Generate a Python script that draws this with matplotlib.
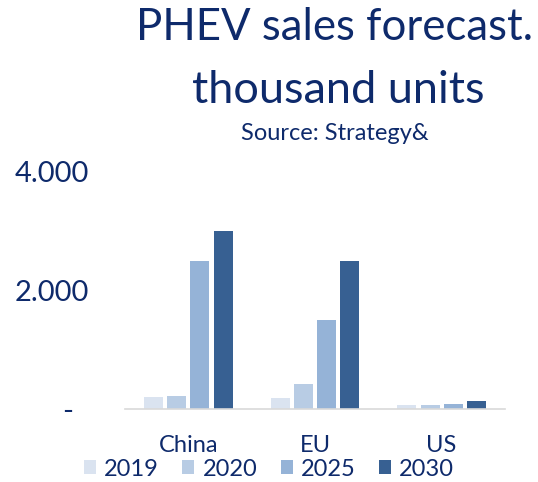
import matplotlib
matplotlib.use("Agg")
import matplotlib.pyplot as plt
import numpy as np

plt.rcParams["font.family"] = ["Lato", "DejaVu Sans"]

regions = ["China", "EU", "US"]
years = ["2019", "2020", "2025", "2030"]
sales = {
    "2019": [200, 190, 60],
    "2020": [225, 430, 75],
    "2025": [2500, 1500, 85],
    "2030": [3000, 2500, 130],
}
colors = ["#dae3f0", "#b8cce4", "#95b3d7", "#376092"]
navy = "#0e2a6b"

fig = plt.figure(figsize=(5.38, 4.82), dpi=100)
ax = fig.add_axes([125 / 538, 1 - 409 / 482, 380 / 538, 237 / 482])

x = np.arange(len(regions))
step = 0.183
width = 0.15
for i, yr in enumerate(years):
    ax.bar(x + (i - 1.5) * step, sales[yr], width, color=colors[i], label=yr)

ax.set_xlim(-0.5, 2.5)
ax.set_ylim(0, 4000)
ax.set_yticks([0, 2000, 4000])
ax.set_yticklabels(["-  ", "2.000", "4.000"])
ax.set_xticks(x)
ax.set_xticklabels(regions)
ax.tick_params(axis="y", length=0, pad=26, labelsize=21, labelcolor=navy)
ax.tick_params(axis="x", length=0, pad=19, labelsize=17, labelcolor=navy)
for s in ["top", "right", "left"]:
    ax.spines[s].set_visible(False)
ax.spines["bottom"].set_color("#d9d9d9")
ax.spines["bottom"].set_linewidth(1.2)

fig.text(0.621, 1 - 40 / 482, "PHEV sales forecast.", ha="center", va="baseline",
         fontsize=31.5, color=navy)
fig.text(0.628, 1 - 103 / 482, "thousand units", ha="center", va="baseline",
         fontsize=32.5, color=navy)
fig.text(0.623, 1 - 140 / 482, "Source: Strategy&", ha="center", va="baseline",
         fontsize=17, color=navy)

leg = fig.legend(loc="center", bbox_to_anchor=(0.50, 1 - 469 / 482), ncol=4,
                 frameon=False, fontsize=17, handlelength=0.5, handleheight=0.5,
                 handletextpad=0.35, columnspacing=1.0, labelcolor=navy,
                 borderpad=0.1)

fig.savefig("out.png", dpi=100)
